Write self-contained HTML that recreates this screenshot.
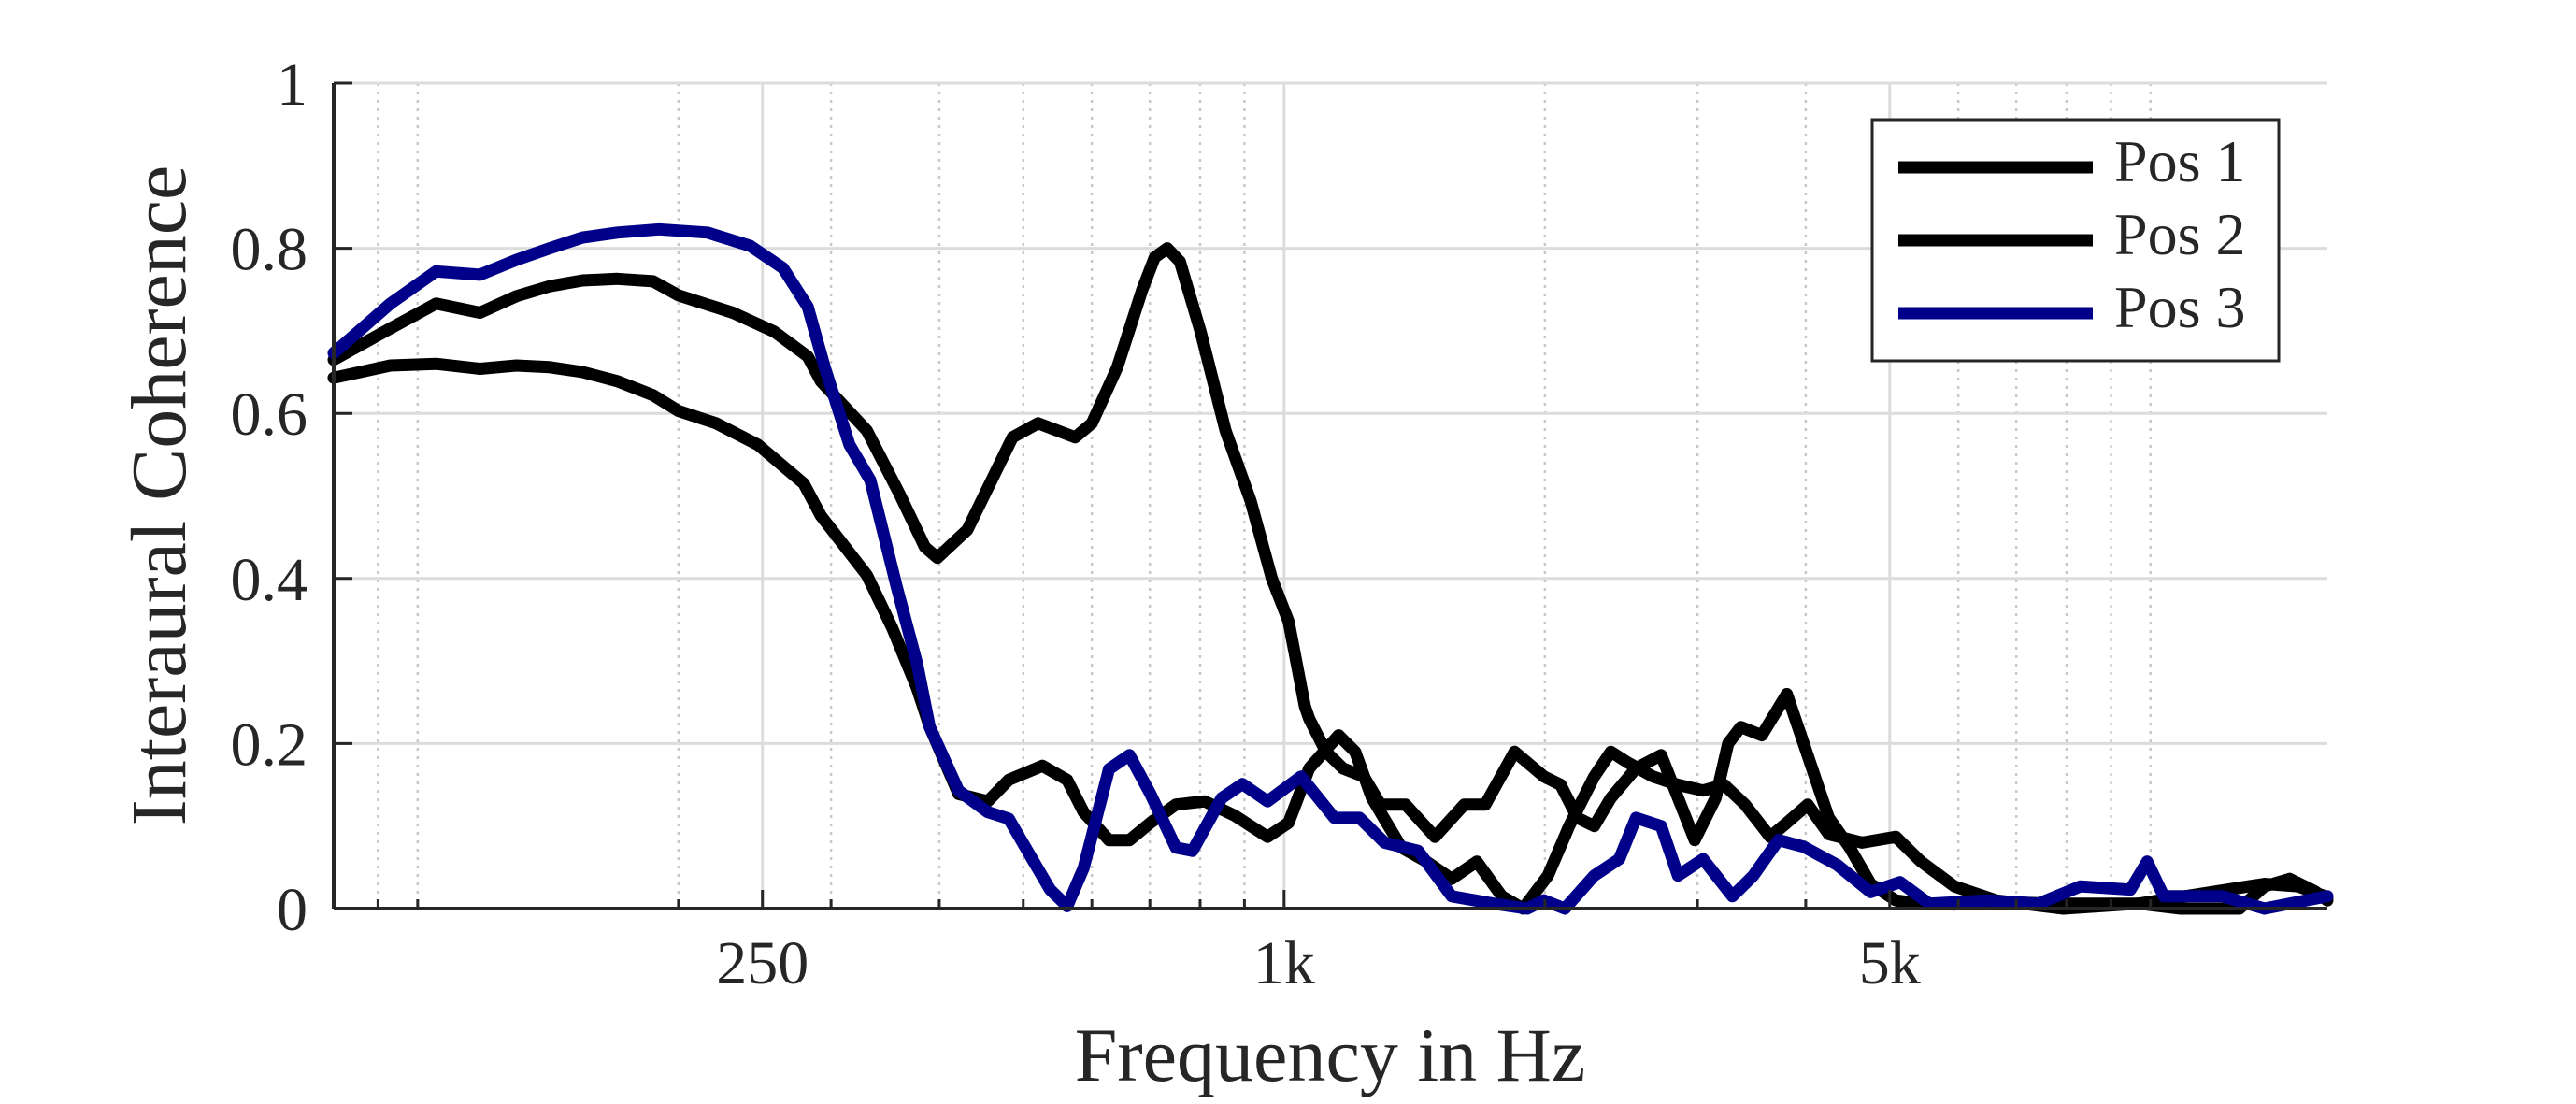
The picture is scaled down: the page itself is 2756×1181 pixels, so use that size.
<!DOCTYPE html>
<html><head><meta charset="utf-8"><style>
html,body{margin:0;padding:0;background:#fff;}
svg{display:block;}
text{font-family:"Liberation Serif",serif;fill:#262626;}
</style></head><body>
<svg id="chart" width="2756" height="1181" viewBox="0 0 2756 1181" xmlns="http://www.w3.org/2000/svg">
<rect x="0" y="0" width="2756" height="1181" fill="#fff"/>
<g id="grid"></g>
<g id="series"></g>
<g id="axes"></g>
<text x="198" y="530" font-size="84" text-anchor="middle" transform="rotate(-90 198 530)">Interaural Coherence</text>
<text x="1423" y="1156" font-size="82" text-anchor="middle">Frequency in Hz</text>
<g>
<rect x="2003" y="128" width="435" height="258" fill="#fff" stroke="#262626" stroke-width="3"/>
<line x1="2031" y1="179" x2="2239" y2="179" stroke="#000" stroke-width="13"/>
<line x1="2031" y1="257" x2="2239" y2="257" stroke="#000" stroke-width="13"/>
<line x1="2031" y1="335" x2="2239" y2="335" stroke="#00008b" stroke-width="13"/>
<text x="2262" y="194" font-size="64" fill="#000">Pos 1</text>
<text x="2262" y="272" font-size="64" fill="#000">Pos 2</text>
<text x="2262" y="350" font-size="64" fill="#000">Pos 3</text>
</g>
</svg>
<script>
const xMajorTicks = [250, 1000, 5000];
const xMajorLabels = ["250", "1k", "5k"];
const xMinorTicks = [90,100,200,300,400,500,600,700,800,900,2000,3000,4000,6000,7000,8000,9000,10000];
const yTicks = [0, 0.2, 0.4, 0.6, 0.8, 1];
const yTickLabels = ["0", "0.2", "0.4", "0.6", "0.8", "1"];

const pos1Freq = [80,93,105,118,130,142,155,170,187,200,231,258,282,292,330,360,385,398,431,486,520,574,600,642,686,709,733,758,801,856,915,968,1012,1057,1069,1118,1169,1236,1292,1381,1493,1614,1707,1845,1995,2085,2181,2280,2383,2548,2724,2978,3148,3255,3366,3559,3804,3978,4253,4496,4753,5082,5433,5939,6637,7760,9694,10834,13537,14800,16000];
const pos1Val = [0.665,0.703,0.733,0.722,0.742,0.754,0.761,0.763,0.76,0.743,0.722,0.699,0.669,0.639,0.579,0.502,0.438,0.425,0.459,0.571,0.588,0.571,0.588,0.656,0.75,0.789,0.8,0.784,0.699,0.579,0.494,0.4,0.348,0.245,0.23,0.19,0.17,0.16,0.126,0.126,0.087,0.126,0.126,0.19,0.16,0.15,0.11,0.10,0.134,0.17,0.186,0.083,0.134,0.2,0.22,0.21,0.26,0.2,0.11,0.074,0.03,0.01,0.006,0.005,0.008,0.006,0.006,0.014,0.03,0.027,0.014];

const pos2Freq = [80,93,105,118,130,142,155,170,187,200,221,247,279,292,330,353,377,390,421,455,481,526,562,587,628,663,701,750,810,876,957,1012,1069,1156,1208,1263,1366,1460,1561,1669,1784,1887,2016,2133,2280,2383,2492,2665,2848,3045,3219,3404,3639,3804,4022,4253,4648,5082,5433,5939,6637,7934,9694,10834,12664,13537,14472,15475,16000];
const pos2Val = [0.643,0.658,0.66,0.654,0.658,0.656,0.65,0.639,0.622,0.603,0.588,0.562,0.515,0.476,0.404,0.34,0.267,0.22,0.139,0.13,0.156,0.173,0.156,0.117,0.083,0.083,0.104,0.126,0.13,0.113,0.087,0.104,0.17,0.21,0.19,0.134,0.074,0.057,0.036,0.057,0.015,0.0,0.04,0.1,0.16,0.19,0.177,0.16,0.15,0.143,0.15,0.126,0.087,0.104,0.126,0.09,0.08,0.087,0.057,0.027,0.01,0.0,0.006,0.0,0.0,0.027,0.036,0.021,0.01];

const pos3Freq = [80,93,105,118,130,142,155,170,190,216,242,264,282,295,315,333,357,377,390,421,455,481,514,537,562,587,628,663,701,750,784,847,895,957,1046,1143,1222,1306,1428,1561,1745,1908,1995,2109,2280,2437,2548,2724,2848,3045,3292,3480,3721,3978,4348,4753,5139,5555,6494,7420,8297,9480,9911,10360,12112,13537,16000];
const pos3Val = [0.673,0.733,0.772,0.768,0.786,0.8,0.813,0.819,0.823,0.819,0.803,0.776,0.729,0.656,0.562,0.519,0.391,0.297,0.22,0.143,0.117,0.109,0.057,0.023,0.003,0.049,0.169,0.186,0.139,0.074,0.07,0.134,0.151,0.13,0.16,0.11,0.11,0.08,0.07,0.015,0.006,0.0,0.01,0.0,0.04,0.06,0.11,0.1,0.04,0.06,0.015,0.04,0.083,0.075,0.053,0.02,0.032,0.006,0.01,0.006,0.027,0.023,0.057,0.015,0.015,0.0,0.015];

const NS = "http://www.w3.org/2000/svg";
const L = 357, R = 2490, T = 89, B = 972;
const fMin = 80, fMax = 16000;
function xScale(f){ return L + (Math.log10(f) - Math.log10(fMin)) / (Math.log10(fMax) - Math.log10(fMin)) * (R - L); }
function yScale(v){ return B - v * (B - T); }
function mk(tag, attrs, parent){ const e = document.createElementNS(NS, tag); for (const k in attrs) e.setAttribute(k, attrs[k]); parent.appendChild(e); return e; }

const grid = document.getElementById('grid');
const axes = document.getElementById('axes');
const series = document.getElementById('series');

xMinorTicks.forEach(f => {
  const x = xScale(f);
  const g = mk('line', {x1:x, y1:T, x2:x, y2:B, stroke:'#c8c8c8', 'stroke-width':2.5, 'stroke-dasharray':'3,6'}, grid);
  
  
  const t = mk('line', {x1:x, y1:B, x2:x, y2:B-10, stroke:'#262626', 'stroke-width':3}, axes);
  
  
});
xMajorTicks.forEach((f, i) => {
  const x = xScale(f);
  const g = mk('line', {x1:x, y1:T, x2:x, y2:B, stroke:'#dcdcdc', 'stroke-width':3}, grid);
  
  
  const t = mk('line', {x1:x, y1:B, x2:x, y2:B-20, stroke:'#262626', 'stroke-width':3}, axes);
  
  
  const lb = mk('text', {x:x, y:B+80, 'font-size':66, 'text-anchor':'middle'}, axes);
  lb.textContent = xMajorLabels[i];
  
  
});
yTicks.forEach((v, i) => {
  const y = yScale(v);
  if (v > 0) {
    const g = mk('line', {x1:L, y1:y, x2:R, y2:y, stroke:'#dcdcdc', 'stroke-width':3}, grid);
    
    
  }
  const t = mk('line', {x1:L, y1:y, x2:L+20, y2:y, stroke:'#262626', 'stroke-width':3}, axes);
  
  
  const lb = mk('text', {x:L-28, y:y+23, 'font-size':66, 'text-anchor':'end'}, axes);
  lb.textContent = yTickLabels[i];
  
  
});
const xa = mk('line', {x1:L, y1:B, x2:R, y2:B, stroke:'#262626', 'stroke-width':4}, axes);


const ya = mk('line', {x1:L, y1:T, x2:L, y2:B, stroke:'#262626', 'stroke-width':4}, axes);



function drawSeries(fr, vals, color, name){
  const d = fr.map((f, i) => (i ? 'L' : 'M') + xScale(f).toFixed(1) + ',' + yScale(vals[i]).toFixed(1)).join(' ');
  const p = mk('path', {d:d, fill:'none', stroke:color, 'stroke-width':13, 'stroke-linejoin':'round', 'stroke-linecap':'round'}, series);
  
  
}
drawSeries(pos2Freq, pos2Val, '#000', 'line-pos2');
drawSeries(pos1Freq, pos1Val, '#000', 'line-pos1');
drawSeries(pos3Freq, pos3Val, '#00008b', 'line-pos3');
</script>
</body></html>
